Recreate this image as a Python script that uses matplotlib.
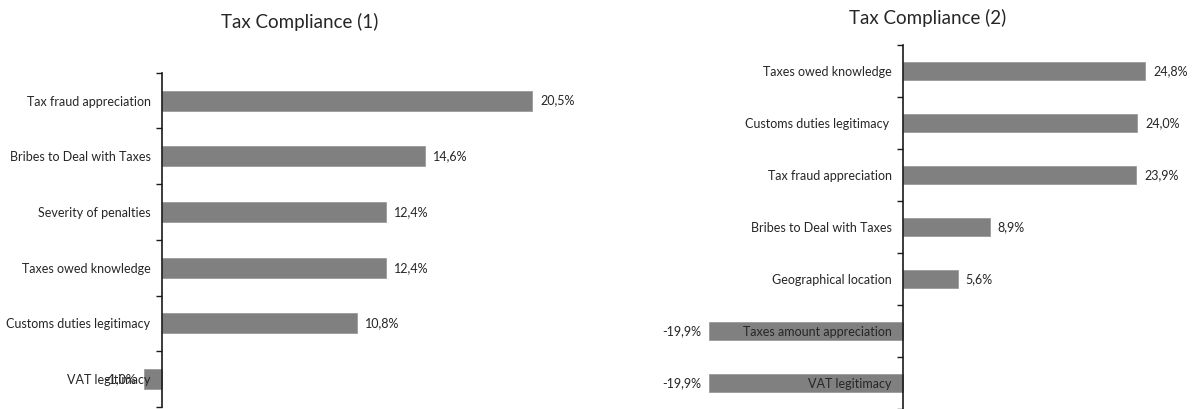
import numpy as np
import matplotlib
matplotlib.use('Agg')
import matplotlib.pyplot as plt

plt.rcParams['font.family'] = ['Lato', 'DejaVu Sans']

# Tax Compliance (1)
cats1 = ['Tax fraud appreciation', 'Bribes to Deal with Taxes', 'Severity of penalties',
         'Taxes owed knowledge', 'Customs duties legitimacy', 'VAT legitimacy']
vals1 = [20.5, 14.6, 12.4, 12.4, 10.8, -1.0]

# Tax Compliance (2)
cats2 = ['Taxes owed knowledge', 'Customs duties legitimacy ', 'Tax fraud appreciation',
         'Bribes to Deal with Taxes', 'Geographical location', 'Taxes amount appreciation',
         'VAT legitimacy']
vals2 = [24.8, 24.0, 23.9, 8.9, 5.6, -19.9, -19.9]

W, H = 1193, 409
BAR = '#808080'
TXT = '#262626'
FS = 9

fig = plt.figure(figsize=(W / 100, H / 100), dpi=100)


def px_axes(x0, x1, ytop, ybot):
    return fig.add_axes([x0 / W, (H - ybot) / H, (x1 - x0) / W, (ybot - ytop) / H])


def fmt(v):
    return f'{v:.1f}%'.replace('.', ',')


def draw(ax, cats, vals, zero_px, ppu, x0, x1):
    n = len(cats)
    y = np.arange(n)
    ax.barh(y, vals, height=0.36, color=BAR, edgecolor='#9a9a9a', linewidth=0.6)
    ax.set_xlim(-(zero_px - x0) / ppu, (x1 - zero_px) / ppu)
    ax.set_ylim(n - 0.5, -0.5)
    for s in ['top', 'right', 'bottom']:
        ax.spines[s].set_visible(False)
    ax.spines['left'].set_position(('data', 0))
    ax.spines['left'].set_color('#1a1a1a')
    ax.spines['left'].set_linewidth(1.2)
    ax.set_xticks([])
    ax.set_yticks(y)
    ax.set_yticklabels(cats, fontsize=FS, color=TXT)
    ax.set_yticks(np.arange(n + 1) - 0.5, minor=True)
    ax.tick_params(axis='y', which='major', length=0, pad=8)
    ax.tick_params(axis='y', which='minor', length=4, width=1, color='#1a1a1a', direction='out')
    off = 8 / ppu
    for yi, v in zip(y, vals):
        if v >= 0:
            ax.text(v + off, yi, fmt(v), va='center', ha='left', fontsize=FS, color=TXT)
        else:
            ax.text(v - off, yi, fmt(v), va='center', ha='right', fontsize=FS, color=TXT)


ax1 = px_axes(100, 580, 72.7, 407)
draw(ax1, cats1, vals1, 161.7, 18.06, 100, 580)

ax2 = px_axes(680, 1185, 45, 409)
draw(ax2, cats2, vals2, 903, 9.76, 680, 1185)

fig.text(300 / W, 1 - 22 / H, 'Tax Compliance (1)', ha='center', va='center', fontsize=13.5, color=TXT)
fig.text(928 / W, 1 - 18 / H, 'Tax Compliance (2)', ha='center', va='center', fontsize=13.5, color=TXT)

fig.savefig('out.png', dpi=100)
